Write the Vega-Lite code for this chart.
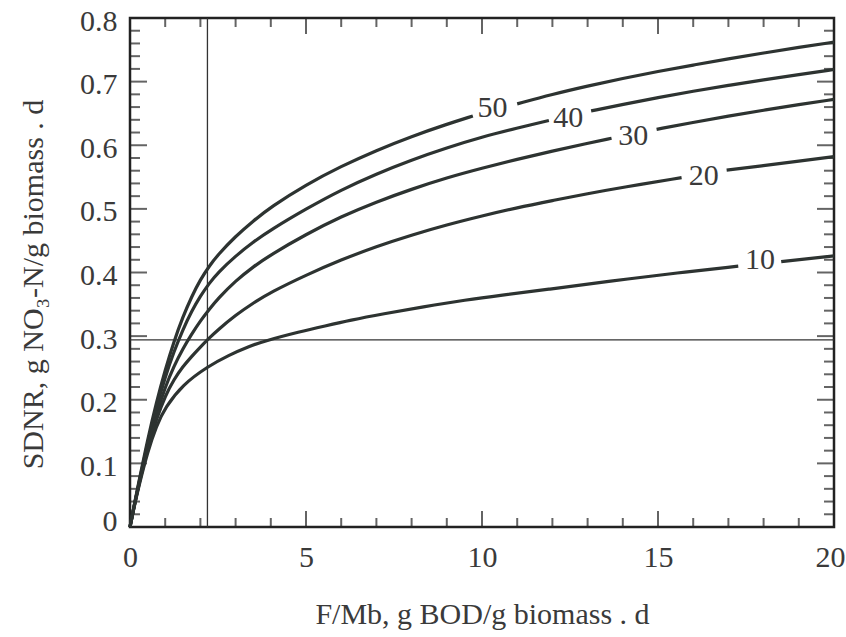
{
  "$schema": "https://vega.github.io/schema/vega-lite/v6.json",
  "autosize": {"type": "none"},
  "padding": {"left": 130, "top": 18, "right": 12, "bottom": 110},
  "width": 704,
  "height": 509,
  "background": "white",
  "config": {
    "view": {"stroke": "#222222", "strokeWidth": 2.5},
    "axis": {"domain": false, "ticks": false, "grid": false}
  },
  "resolve": {"axis": {"x": "independent", "y": "independent"}},
  "datasets": {
    "xmajor": [{"v": 0}, {"v": 5}, {"v": 10}, {"v": 15}, {"v": 20}],
    "xminor": [{"v": 1}, {"v": 2}, {"v": 3}, {"v": 4}, {"v": 6}, {"v": 7}, {"v": 8}, {"v": 9}, {"v": 11}, {"v": 12}, {"v": 13}, {"v": 14}, {"v": 16}, {"v": 17}, {"v": 18}, {"v": 19}],
    "ymajor": [{"v": 0}, {"v": 0.1}, {"v": 0.2}, {"v": 0.3}, {"v": 0.4}, {"v": 0.5}, {"v": 0.6}, {"v": 0.7}, {"v": 0.8}],
    "yminor": [{"v": 0.02}, {"v": 0.04}, {"v": 0.06}, {"v": 0.08}, {"v": 0.12}, {"v": 0.14}, {"v": 0.16}, {"v": 0.18}, {"v": 0.22}, {"v": 0.24}, {"v": 0.26}, {"v": 0.28}, {"v": 0.32}, {"v": 0.34}, {"v": 0.36}, {"v": 0.38}, {"v": 0.42}, {"v": 0.44}, {"v": 0.46}, {"v": 0.48}, {"v": 0.52}, {"v": 0.54}, {"v": 0.56}, {"v": 0.58}, {"v": 0.62}, {"v": 0.64}, {"v": 0.66}, {"v": 0.68}, {"v": 0.72}, {"v": 0.74}, {"v": 0.76}, {"v": 0.78}]
  },
  "layer": [
    {
      "data": {"values": [{"fm": 2.2}]},
      "mark": {"type": "rule", "color": "#333333", "strokeWidth": 1.3},
      "encoding": {"x": {"field": "fm", "type": "quantitative", "axis": null}}
    },
    {
      "data": {"values": [{"sdnr": 0.294}]},
      "mark": {"type": "rule", "color": "#333333", "strokeWidth": 1.3},
      "encoding": {"y": {"field": "sdnr", "type": "quantitative", "axis": null}}
    },
    {
      "data": {"name": "xmajor"},
      "mark": {"type": "tick", "orient": "vertical", "size": 16, "thickness": 2, "color": "#222222", "yOffset": -8},
      "encoding": {"x": {"field": "v", "type": "quantitative", "axis": null}, "y": {"datum": 0, "type": "quantitative", "axis": null}}
    },
    {
      "data": {"name": "xmajor"},
      "mark": {"type": "tick", "orient": "vertical", "size": 16, "thickness": 2, "color": "#222222", "yOffset": 8},
      "encoding": {"x": {"field": "v", "type": "quantitative", "axis": null}, "y": {"datum": 0.8, "type": "quantitative", "axis": null}}
    },
    {
      "data": {"name": "xminor"},
      "mark": {"type": "tick", "orient": "vertical", "size": 9, "thickness": 2, "color": "#222222", "yOffset": -4.5},
      "encoding": {"x": {"field": "v", "type": "quantitative", "axis": null}, "y": {"datum": 0, "type": "quantitative", "axis": null}}
    },
    {
      "data": {"name": "xminor"},
      "mark": {"type": "tick", "orient": "vertical", "size": 9, "thickness": 2, "color": "#222222", "yOffset": 4.5},
      "encoding": {"x": {"field": "v", "type": "quantitative", "axis": null}, "y": {"datum": 0.8, "type": "quantitative", "axis": null}}
    },
    {
      "data": {"name": "ymajor"},
      "mark": {"type": "tick", "orient": "horizontal", "size": 17, "thickness": 2, "color": "#222222", "xOffset": 8.5},
      "encoding": {"y": {"field": "v", "type": "quantitative", "axis": null}, "x": {"datum": 0, "type": "quantitative", "axis": null}}
    },
    {
      "data": {"name": "ymajor"},
      "mark": {"type": "tick", "orient": "horizontal", "size": 17, "thickness": 2, "color": "#222222", "xOffset": -8.5},
      "encoding": {"y": {"field": "v", "type": "quantitative", "axis": null}, "x": {"datum": 20, "type": "quantitative", "axis": null}}
    },
    {
      "data": {"name": "yminor"},
      "mark": {"type": "tick", "orient": "horizontal", "size": 10, "thickness": 2, "color": "#222222", "xOffset": 5},
      "encoding": {"y": {"field": "v", "type": "quantitative", "axis": null}, "x": {"datum": 0, "type": "quantitative", "axis": null}}
    },
    {
      "data": {"name": "yminor"},
      "mark": {"type": "tick", "orient": "horizontal", "size": 10, "thickness": 2, "color": "#222222", "xOffset": -5},
      "encoding": {"y": {"field": "v", "type": "quantitative", "axis": null}, "x": {"datum": 20, "type": "quantitative", "axis": null}}
    },
    {
      "data": {"values": [
        {"seg": "50a", "x": 0, "y": 0},
        {"seg": "50a", "x": 0.1, "y": 0.029},
        {"seg": "50a", "x": 0.25, "y": 0.071},
        {"seg": "50a", "x": 0.5, "y": 0.137},
        {"seg": "50a", "x": 0.75, "y": 0.196},
        {"seg": "50a", "x": 1, "y": 0.247},
        {"seg": "50a", "x": 1.25, "y": 0.292},
        {"seg": "50a", "x": 1.5, "y": 0.33},
        {"seg": "50a", "x": 1.75, "y": 0.362},
        {"seg": "50a", "x": 2, "y": 0.389},
        {"seg": "50a", "x": 2.25, "y": 0.41},
        {"seg": "50a", "x": 2.5, "y": 0.428},
        {"seg": "50a", "x": 3, "y": 0.457},
        {"seg": "50a", "x": 3.5, "y": 0.481},
        {"seg": "50a", "x": 4, "y": 0.503},
        {"seg": "50a", "x": 5, "y": 0.538},
        {"seg": "50a", "x": 6, "y": 0.567},
        {"seg": "50a", "x": 7, "y": 0.592},
        {"seg": "50a", "x": 8, "y": 0.614},
        {"seg": "50a", "x": 9, "y": 0.633},
        {"seg": "50a", "x": 9.74, "y": 0.646},
        {"seg": "50b", "x": 11, "y": 0.665},
        {"seg": "50b", "x": 12, "y": 0.68},
        {"seg": "50b", "x": 13, "y": 0.693},
        {"seg": "50b", "x": 14, "y": 0.705},
        {"seg": "50b", "x": 15, "y": 0.716},
        {"seg": "50b", "x": 16, "y": 0.726},
        {"seg": "50b", "x": 17, "y": 0.736},
        {"seg": "50b", "x": 18, "y": 0.745},
        {"seg": "50b", "x": 19, "y": 0.754},
        {"seg": "50b", "x": 20, "y": 0.762},

        {"seg": "40a", "x": 0, "y": 0},
        {"seg": "40a", "x": 0.1, "y": 0.028},
        {"seg": "40a", "x": 0.25, "y": 0.069},
        {"seg": "40a", "x": 0.5, "y": 0.132},
        {"seg": "40a", "x": 0.75, "y": 0.188},
        {"seg": "40a", "x": 1, "y": 0.236},
        {"seg": "40a", "x": 1.25, "y": 0.276},
        {"seg": "40a", "x": 1.5, "y": 0.31},
        {"seg": "40a", "x": 1.75, "y": 0.339},
        {"seg": "40a", "x": 2, "y": 0.363},
        {"seg": "40a", "x": 2.25, "y": 0.383},
        {"seg": "40a", "x": 2.5, "y": 0.4},
        {"seg": "40a", "x": 3, "y": 0.426},
        {"seg": "40a", "x": 3.5, "y": 0.448},
        {"seg": "40a", "x": 4, "y": 0.467},
        {"seg": "40a", "x": 5, "y": 0.5},
        {"seg": "40a", "x": 6, "y": 0.53},
        {"seg": "40a", "x": 7, "y": 0.555},
        {"seg": "40a", "x": 8, "y": 0.577},
        {"seg": "40a", "x": 9, "y": 0.596},
        {"seg": "40a", "x": 10, "y": 0.613},
        {"seg": "40a", "x": 11, "y": 0.627},
        {"seg": "40a", "x": 11.9, "y": 0.639},
        {"seg": "40b", "x": 13.1, "y": 0.654},
        {"seg": "40b", "x": 14, "y": 0.664},
        {"seg": "40b", "x": 15, "y": 0.675},
        {"seg": "40b", "x": 16, "y": 0.685},
        {"seg": "40b", "x": 17, "y": 0.694},
        {"seg": "40b", "x": 18, "y": 0.703},
        {"seg": "40b", "x": 19, "y": 0.711},
        {"seg": "40b", "x": 20, "y": 0.719},

        {"seg": "30a", "x": 0, "y": 0},
        {"seg": "30a", "x": 0.1, "y": 0.028},
        {"seg": "30a", "x": 0.25, "y": 0.067},
        {"seg": "30a", "x": 0.5, "y": 0.127},
        {"seg": "30a", "x": 0.75, "y": 0.178},
        {"seg": "30a", "x": 1, "y": 0.22},
        {"seg": "30a", "x": 1.25, "y": 0.253},
        {"seg": "30a", "x": 1.5, "y": 0.28},
        {"seg": "30a", "x": 1.75, "y": 0.303},
        {"seg": "30a", "x": 2, "y": 0.324},
        {"seg": "30a", "x": 2.25, "y": 0.342},
        {"seg": "30a", "x": 2.5, "y": 0.359},
        {"seg": "30a", "x": 3, "y": 0.387},
        {"seg": "30a", "x": 3.5, "y": 0.409},
        {"seg": "30a", "x": 4, "y": 0.428},
        {"seg": "30a", "x": 5, "y": 0.46},
        {"seg": "30a", "x": 6, "y": 0.488},
        {"seg": "30a", "x": 7, "y": 0.511},
        {"seg": "30a", "x": 8, "y": 0.531},
        {"seg": "30a", "x": 9, "y": 0.549},
        {"seg": "30a", "x": 10, "y": 0.564},
        {"seg": "30a", "x": 11, "y": 0.578},
        {"seg": "30a", "x": 12, "y": 0.591},
        {"seg": "30a", "x": 13, "y": 0.603},
        {"seg": "30a", "x": 13.68, "y": 0.611},
        {"seg": "30b", "x": 14.96, "y": 0.625},
        {"seg": "30b", "x": 16, "y": 0.636},
        {"seg": "30b", "x": 17, "y": 0.646},
        {"seg": "30b", "x": 18, "y": 0.655},
        {"seg": "30b", "x": 19, "y": 0.664},
        {"seg": "30b", "x": 20, "y": 0.672},

        {"seg": "20a", "x": 0, "y": 0},
        {"seg": "20a", "x": 0.1, "y": 0.028},
        {"seg": "20a", "x": 0.25, "y": 0.066},
        {"seg": "20a", "x": 0.5, "y": 0.123},
        {"seg": "20a", "x": 0.75, "y": 0.17},
        {"seg": "20a", "x": 1, "y": 0.206},
        {"seg": "20a", "x": 1.25, "y": 0.232},
        {"seg": "20a", "x": 1.5, "y": 0.252},
        {"seg": "20a", "x": 1.75, "y": 0.268},
        {"seg": "20a", "x": 2, "y": 0.283},
        {"seg": "20a", "x": 2.25, "y": 0.297},
        {"seg": "20a", "x": 2.5, "y": 0.31},
        {"seg": "20a", "x": 3, "y": 0.333},
        {"seg": "20a", "x": 3.5, "y": 0.352},
        {"seg": "20a", "x": 4, "y": 0.369},
        {"seg": "20a", "x": 5, "y": 0.396},
        {"seg": "20a", "x": 6, "y": 0.42},
        {"seg": "20a", "x": 7, "y": 0.441},
        {"seg": "20a", "x": 8, "y": 0.459},
        {"seg": "20a", "x": 9, "y": 0.475},
        {"seg": "20a", "x": 10, "y": 0.489},
        {"seg": "20a", "x": 11, "y": 0.502},
        {"seg": "20a", "x": 12, "y": 0.513},
        {"seg": "20a", "x": 13, "y": 0.524},
        {"seg": "20a", "x": 14, "y": 0.534},
        {"seg": "20a", "x": 15.67, "y": 0.549},
        {"seg": "20b", "x": 16.95, "y": 0.561},
        {"seg": "20b", "x": 18, "y": 0.568},
        {"seg": "20b", "x": 19, "y": 0.575},
        {"seg": "20b", "x": 20, "y": 0.582},

        {"seg": "10a", "x": 0, "y": 0},
        {"seg": "10a", "x": 0.1, "y": 0.027},
        {"seg": "10a", "x": 0.25, "y": 0.064},
        {"seg": "10a", "x": 0.5, "y": 0.118},
        {"seg": "10a", "x": 0.75, "y": 0.159},
        {"seg": "10a", "x": 1, "y": 0.188},
        {"seg": "10a", "x": 1.5, "y": 0.224},
        {"seg": "10a", "x": 2.2, "y": 0.252},
        {"seg": "10a", "x": 2.8, "y": 0.27},
        {"seg": "10a", "x": 3.41, "y": 0.2845},
        {"seg": "10a", "x": 3.8, "y": 0.292},
        {"seg": "10a", "x": 4.83, "y": 0.307},
        {"seg": "10a", "x": 5.54, "y": 0.316},
        {"seg": "10a", "x": 6.25, "y": 0.325},
        {"seg": "10a", "x": 7.19, "y": 0.335},
        {"seg": "10a", "x": 8.32, "y": 0.346},
        {"seg": "10a", "x": 9.56, "y": 0.357},
        {"seg": "10a", "x": 10.5, "y": 0.364},
        {"seg": "10a", "x": 11.93, "y": 0.374},
        {"seg": "10a", "x": 13.35, "y": 0.384},
        {"seg": "10a", "x": 14, "y": 0.389},
        {"seg": "10a", "x": 15.5, "y": 0.399},
        {"seg": "10a", "x": 17.28, "y": 0.41},
        {"seg": "10b", "x": 18.5, "y": 0.417},
        {"seg": "10b", "x": 20, "y": 0.426}
      ]},
      "mark": {"type": "line", "color": "#2d3331", "strokeWidth": 3.2, "interpolate": "basis"},
      "encoding": {
        "x": {
          "field": "x", "type": "quantitative",
          "scale": {"domain": [0, 20], "nice": false, "zero": false},
          "axis": {
            "orient": "bottom",
            "values": [0, 5, 10, 15, 20],
            "labelFont": "Liberation Serif", "labelFontSize": 30, "labelColor": "#3a3a3a",
            "labelBaseline": "alphabetic", "labelPadding": 39,
            "labelOffset": {"condition": {"test": "datum.value === 20", "value": -4}, "value": 0},
            "labelFlush": false, "labelOverlap": false,
            "title": "F/Mb, g BOD/g biomass . d",
            "titleFont": "Liberation Serif", "titleFontSize": 30, "titleFontWeight": "normal", "titleColor": "#3a3a3a",
            "titleX": 352, "titleY": 96, "titleBaseline": "alphabetic", "titleAlign": "center"
          }
        },
        "y": {
          "field": "y", "type": "quantitative",
          "scale": {"domain": [0, 0.8], "nice": false, "zero": false},
          "axis": {
            "orient": "left",
            "values": [0, 0.1, 0.2, 0.3, 0.4, 0.5, 0.6, 0.7, 0.8],
            "format": ".1~f",
            "labelFont": "Liberation Serif", "labelFontSize": 30, "labelColor": "#3a3a3a",
            "labelBaseline": "middle", "labelPadding": 13,
            "labelOffset": {"condition": {"test": "datum.value === 0", "value": -6}, "value": 3},
            "labelFlush": false, "labelOverlap": false,
            "title": "SDNR, g NO₃-N/g biomass . d",
            "titleFont": "Liberation Serif", "titleFontSize": 30, "titleFontWeight": "normal", "titleColor": "#3a3a3a",
            "titleX": -88, "titleY": 266, "titleBaseline": "alphabetic", "titleAlign": "center", "titleAngle": -90
          }
        },
        "detail": {"field": "seg"}
      }
    },
    {
      "data": {"values": [
        {"label": "50", "x": 10.3, "y": 0.659},
        {"label": "40", "x": 12.45, "y": 0.643},
        {"label": "30", "x": 14.3, "y": 0.614},
        {"label": "20", "x": 16.3, "y": 0.552},
        {"label": "10", "x": 17.9, "y": 0.419}
      ]},
      "mark": {"type": "text", "font": "Liberation Serif", "fontSize": 30, "color": "#3a3a3a", "baseline": "middle", "align": "center"},
      "encoding": {
        "x": {"field": "x", "type": "quantitative", "axis": null},
        "y": {"field": "y", "type": "quantitative", "axis": null},
        "text": {"field": "label"}
      }
    }
  ]
}
